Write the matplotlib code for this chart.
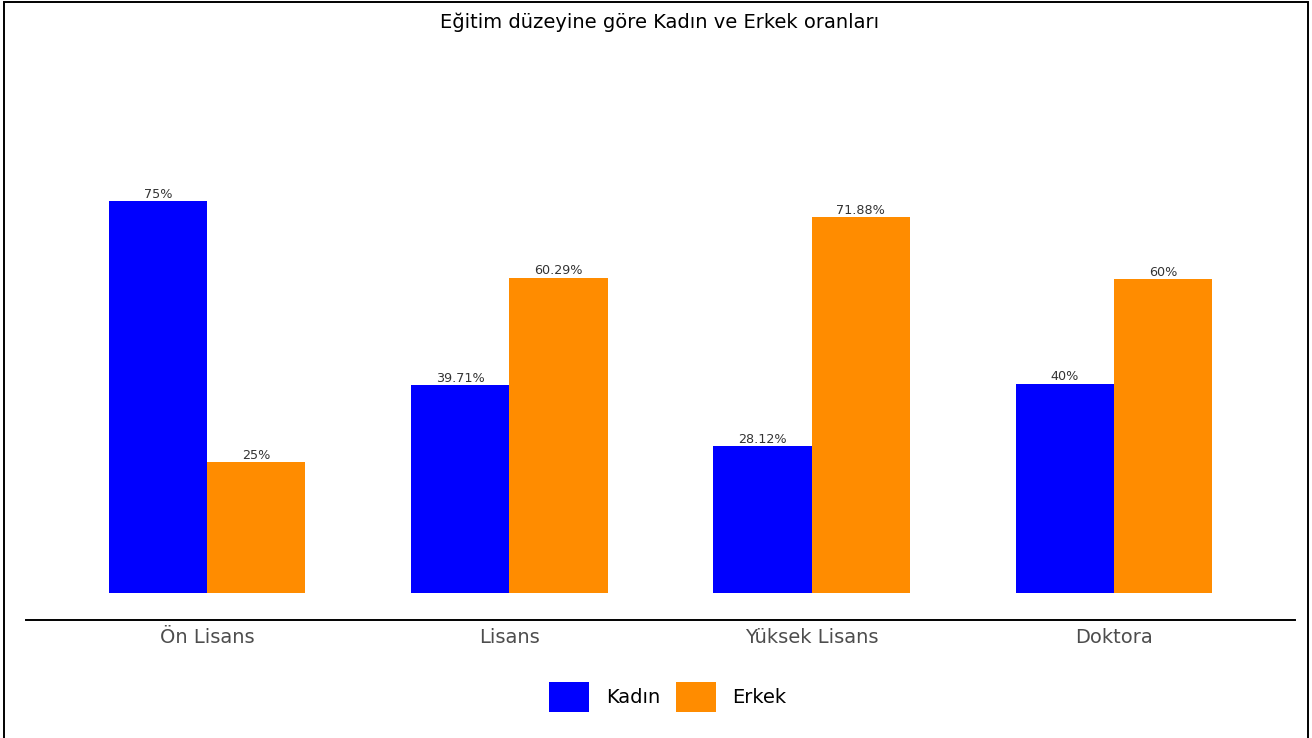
import matplotlib
matplotlib.use("Agg")
import matplotlib.pyplot as plt
from matplotlib.patches import Patch, Rectangle
import numpy as np

plt.rcParams['font.family'] = ['DejaVu Sans']

categories = ["Ön Lisans", "Lisans", "Yüksek Lisans", "Doktora"]
kadin = [75, 39.71, 28.12, 40]
erkek = [25, 60.29, 71.88, 60]
kadin_labels = ["75%", "39.71%", "28.12%", "40%"]
erkek_labels = ["25%", "60.29%", "71.88%", "60%"]
series_names = ["Kadın", "Erkek"]
colors = ["#0000FF", "#FF8C00"]

W, H = 1312, 738
fig = plt.figure(figsize=(W / 100, H / 100), dpi=100)

# panel placement in pixels
left_px, right_px, top_px, bottom_px = 26, 1295, 60, 620
ax = fig.add_axes([left_px / W, (H - bottom_px) / H,
                   (right_px - left_px) / W, (bottom_px - top_px) / H])

x = np.arange(1, len(categories) + 1)
bw = 0.325
ax.bar(x - bw / 2, kadin, width=bw, color=colors[0], linewidth=0)
ax.bar(x + bw / 2, erkek, width=bw, color=colors[1], linewidth=0)

for xs, vals, labs in ((x - bw / 2, kadin, kadin_labels),
                       (x + bw / 2, erkek, erkek_labels)):
    for xi, v, lab in zip(xs, vals, labs):
        ax.annotate(lab, (xi, v), xytext=(0, 2.5), textcoords="offset points",
                    ha="center", va="baseline", fontsize=9.2, color="#333333")

px_per_unit = (593 - 201) / 75
ax.set_xlim(0.4, 4.6)
ax.set_ylim(-(bottom_px - 593) / px_per_unit, (593 - top_px) / px_per_unit)

for side in ["top", "right", "left"]:
    ax.spines[side].set_visible(False)
ax.spines["bottom"].set_linewidth(1.4)
ax.spines["bottom"].set_color("black")
ax.set_yticks([])
ax.set_xticks(x)
ax.set_xticklabels(categories, fontsize=14, color="#4d4d4d")
ax.tick_params(axis="x", length=0, pad=6)

fig.text(660 / W, 1 - 28.5 / H, "Eğitim düzeyine göre Kadın ve Erkek oranları",
         ha="center", va="baseline", fontsize=14, color="black")

handles = [Patch(facecolor=c, edgecolor="none") for c in colors]
fig.legend(handles, series_names, loc="center", ncol=2,
           bbox_to_anchor=(668 / W, 1 - 697 / H), frameon=False,
           fontsize=14, handlelength=2.05, handleheight=2.0,
           handletextpad=0.84, columnspacing=0.84)

# outer frame
fig.add_artist(Rectangle((4 / W, -0.05), (1308 - 4) / W, 1.05 - 2 / H,
                         transform=fig.transFigure, fill=False,
                         edgecolor="black", linewidth=1.4))

fig.savefig("out.png", dpi=100, facecolor="white")
